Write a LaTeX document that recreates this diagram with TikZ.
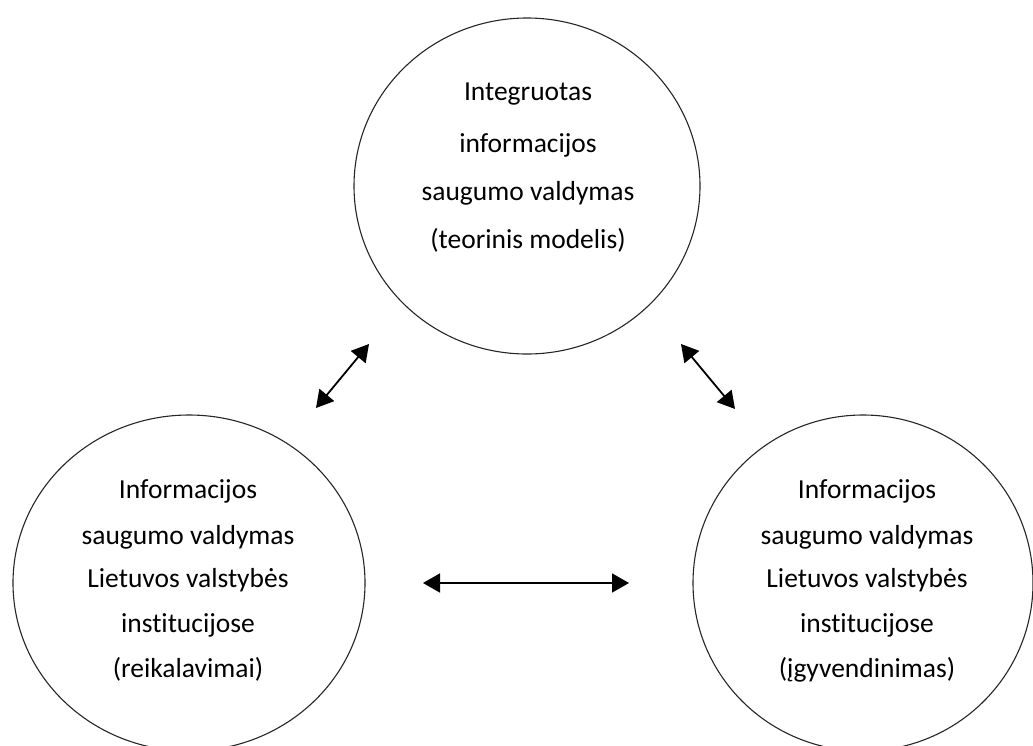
\documentclass[tikz,border=0pt]{standalone}
\usepackage{fontspec}
\setmainfont{Carlito}[Ligatures={NoCommon,NoRare}]
\usetikzlibrary{shapes.geometric,arrows.meta}
\begin{document}
\begin{tikzpicture}[x=1pt,y=-1pt,
  blob/.style={draw=black!85,line width=1.1pt,ellipse,inner sep=0pt},
  lbl/.style={anchor=base,inner sep=0pt,font=\fontsize{27.5}{30}\selectfont},
  dbl/.style={line width=1.8pt,{Triangle[length=17pt,width=19pt]}-{Triangle[length=17pt,width=19pt]}}]
\useasboundingbox (0,0) rectangle (1033,745);

% three areas
\node[blob,minimum width=346pt,minimum height=336pt] (top)   at (527,186) {};
\node[blob,minimum width=352pt,minimum height=336pt] (left)  at (189,583) {};
\node[blob,minimum width=340pt,minimum height=336pt] (right) at (863,583) {};

% top circle text
\node[lbl] (t1) at (528,100) {Integruotas};
\node[lbl] (t2) at (528,152) {informacijos};
\node[lbl] (t3) at (528,200) {saugumo valdymas};
\node[lbl] (t4) at (528,248) {(teorinis modelis)};

% left circle text
\node[lbl] (l1) at (188,498) {Informacijos};
\node[lbl] (l2) at (188,544) {saugumo valdymas};
\node[lbl] (l3) at (188,587) {Lietuvos valstybės};
\node[lbl] (l4) at (188,632) {institucijose};
\node[lbl] (l5) at (188,677) {(reikalavimai)};

% right circle text
\node[lbl] (r1) at (867,498) {Informacijos};
\node[lbl] (r2) at (867,544) {saugumo valdymas};
\node[lbl] (r3) at (867,587) {Lietuvos valstybės};
\node[lbl] (r4) at (867,632) {institucijose};
\node[lbl] (r5) at (867,677) {(įgyvendinimas)};

% arrow end points
\coordinate (la) at (316,408);
\coordinate (lb) at (369,344);
\coordinate (ra) at (681,344);
\coordinate (rb) at (735,409);
\coordinate (ha) at (423,583);
\coordinate (hb) at (629,583);

\draw[dbl] (la) -- (lb);
\draw[dbl] (ra) -- (rb);
\draw[dbl] (ha) -- (hb);
\end{tikzpicture}
\end{document}
